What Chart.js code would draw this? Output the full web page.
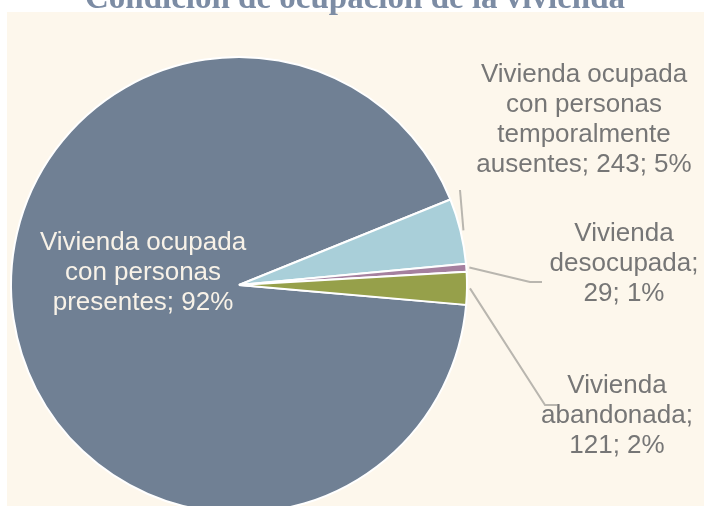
<!DOCTYPE html>
<html lang="es">
<head>
<meta charset="utf-8">
<title>Condición de ocupación de la vivienda</title>
<script src="https://cdn.jsdelivr.net/npm/chart.js@4.4.1/dist/chart.umd.min.js"></script>
<style>
  html, body { margin: 0; padding: 0; background: #ffffff; overflow: hidden; }
  #wrap { width: 704px; height: 506px; overflow: hidden; }
  canvas { display: block; }
</style>
</head>
<body>
<div id="wrap"><canvas id="pie" width="704" height="530"></canvas></div>
<script>
// --- DATOS ---
const titleText = 'Condición de ocupación de la vivienda';
const categories = [
    'Vivienda ocupada con personas presentes',
    'Vivienda ocupada con personas temporalmente ausentes',
    'Vivienda desocupada',
    'Vivienda abandonada'
];
const values = [4840, 243, 29, 121];
// lineas de cada etiqueta; {v} = valor, {p} = porcentaje
const labelTemplates = [
    ['Vivienda ocupada', 'con personas', 'presentes; {p}%'],
    ['Vivienda ocupada', 'con personas', 'temporalmente', 'ausentes; {v}; {p}%'],
    ['Vivienda', 'desocupada;', '{v}; {p}%'],
    ['Vivienda', 'abandonada;', '{v}; {p}%']
];

// --- ESTILO ---
const sliceColors = ['#708094', '#a9cfd9', '#a5809f', '#96a04a'];
const textGray = '#767676';
const leaderGray = '#b9b6af';
const cream = '#fdf7ec';
const labelFont = '26px "Liberation Sans", Arial, sans-serif';
const lineHeight = 30;

// posicion de etiquetas (centro x, baseline de la primera linea) y codos de las guias
const labelLayout = [
    { x: 143, y: 250, color: '#f8f2e8' },
    { x: 584, y: 82, color: textGray, elbow: [[460, 190]] },
    { x: 624, y: 241, color: textGray, elbow: [[530, 282], [542, 282]] },
    { x: 617, y: 393, color: textGray, elbow: [[545, 405], [557, 405]] }
];

const total = values.reduce((a, b) => a + b, 0);

const fillTemplate = (line, i) => line
    .replace('{v}', values[i])
    .replace('{p}', Math.round(values[i] / total * 100));

// fondo crema + titulo
const backgroundPlugin = {
    id: 'fondo',
    beforeDraw: (chart) => {
        const ctx = chart.ctx;
        ctx.save();
        ctx.fillStyle = cream;
        ctx.fillRect(7, 12, chart.width - 7, chart.height - 12);
        ctx.restore();
    }
};

// titulo, guias y etiquetas
const labelPlugin = {
    id: 'etiquetas',
    afterDraw: (chart) => {
        const ctx = chart.ctx;
        const arcs = chart.getDatasetMeta(0).data;
        ctx.save();

        ctx.fillStyle = '#7c8ca4';
        ctx.font = 'bold 33px "Liberation Serif", "Times New Roman", serif';
        ctx.textAlign = 'center';
        ctx.textBaseline = 'alphabetic';
        ctx.fillText(titleText, 355, 7.5);

        labelLayout.forEach((lay, i) => {
            if (lay.elbow) {
                const arc = arcs[i];
                const mid = (arc.startAngle + arc.endAngle) / 2;
                const r = arc.outerRadius + 3;
                ctx.beginPath();
                ctx.moveTo(arc.x + Math.cos(mid) * r, arc.y + Math.sin(mid) * r);
                lay.elbow.forEach(p => ctx.lineTo(p[0], p[1]));
                ctx.strokeStyle = leaderGray;
                ctx.lineWidth = 2;
                ctx.stroke();
            }
            ctx.font = labelFont;
            ctx.fillStyle = lay.color;
            labelTemplates[i].forEach((line, k) => {
                ctx.fillText(fillTemplate(line, i), lay.x, lay.y + k * lineHeight);
            });
        });
        ctx.restore();
    }
};

const chart = new Chart(document.getElementById('pie').getContext('2d'), {
    type: 'pie',
    data: {
        labels: categories,
        datasets: [{
            data: values,
            backgroundColor: sliceColors,
            borderColor: '#ffffff',
            borderWidth: 2
        }]
    },
    options: {
        responsive: false,
        animation: false,
        rotation: 95,
        layout: { padding: { left: 10, right: 236, top: 56, bottom: 16 } },
        plugins: {
            legend: { display: false },
            tooltip: { enabled: false },
            title: { display: false }
        },
        events: []
    },
    plugins: [backgroundPlugin, labelPlugin]
});
</script>
</body>
</html>
